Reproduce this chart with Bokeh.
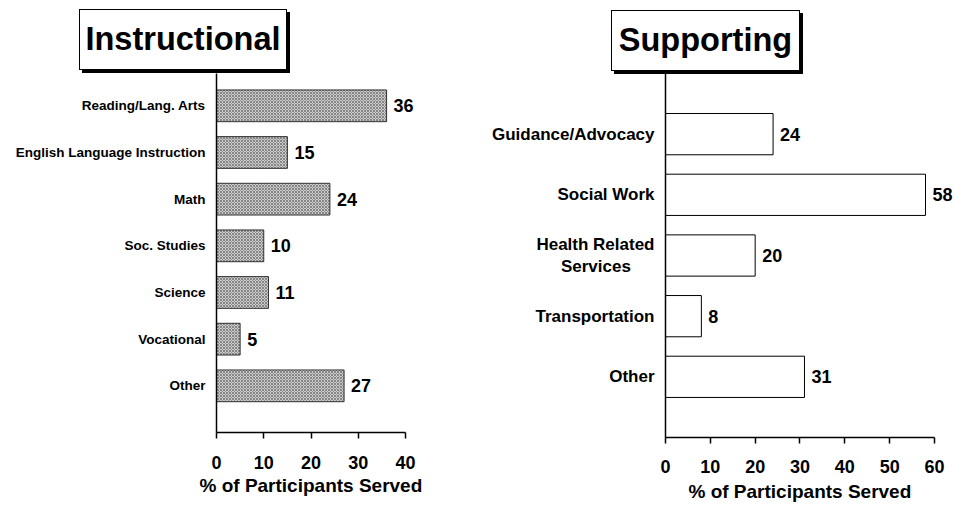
from bokeh.plotting import figure
from bokeh.models import (Range1d, FixedTicker, LabelSet, ColumnDataSource, Div, Title)
from bokeh.layouts import row, column
from bokeh.core.properties import value
from bokeh.embed import file_html
from bokeh.resources import INLINE

# ---------------- data ----------------
instr_title = "Instructional"
instr_categories = ["Reading/Lang. Arts", "English Language Instruction", "Math",
                    "Soc. Studies", "Science", "Vocational", "Other"]
instr_values = [36, 15, 24, 10, 11, 5, 27]
instr_ticks = [0, 10, 20, 30, 40]

supp_title = "Supporting"
supp_categories = ["Guidance/Advocacy", "Social Work",
                   "Health Related\nServices\u00a0\u00a0\u00a0\u00a0\u00a0",
                   "Transportation", "Other"]
supp_values = [24, 58, 20, 8, 31]
supp_ticks = [0, 10, 20, 30, 40, 50, 60]

x_label = "% of Participants Served"
FONT = "Liberation Sans"
TITLE_H = 73
CHART_H = 437
XLABEL_W = 223  # approx. rendered width of the x-axis title at 19px bold


def title_div(title, width, box_left, box_top, box_w, box_h):
    html = (
        f'<div style="margin-left:{box_left}px; margin-top:{box_top}px; '
        f'width:{box_w}px; height:{box_h}px; box-sizing:border-box; '
        f'border:1.5px solid black; background:white; box-shadow:3px 3px 0 0 black; '
        f'display:flex; align-items:center; justify-content:center; '
        f"font-family:'{FONT}'; font-weight:bold; font-size:32.5px; color:black; "
        f'line-height:1;">{title}</div>'
    )
    return Div(text=html, width=width, height=TITLE_H, margin=0)


def chart_fig(cats, vals, ticks, width, mb_left, mb_bottom, px_per_x, px_per_y,
              label_size, hatched, tick_standoff, xlabel_standoff):
    n = len(cats)
    pos = [n - i for i in range(n)]  # first category at the top
    src = ColumnDataSource(dict(y=pos, v=vals, t=[str(v) for v in vals]))
    frame_h = CHART_H - mb_bottom
    frame_w = width - mb_left
    x_end = frame_w / px_per_x
    p = figure(width=width, height=CHART_H, output_backend="svg", toolbar_location=None,
               x_range=Range1d(0, x_end),
               y_range=Range1d(0, frame_h / px_per_y),
               min_border_left=mb_left, min_border_top=0,
               min_border_bottom=mb_bottom, min_border_right=0)
    p.outline_line_color = None
    p.grid.visible = False
    p.background_fill_color = None
    p.border_fill_color = None

    if hatched:
        p.hbar(y="y", right="v", left=0, height=0.68, source=src,
               fill_color="#cccccc", line_color="#333333", line_width=1,
               hatch_pattern="diagonal_cross", hatch_scale=3, hatch_color="#555555",
               hatch_weight=0.6)
    else:
        p.hbar(y="y", right="v", left=0, height=0.68, source=src,
               fill_color="white", line_color="black", line_width=1)

    labels = LabelSet(x="v", y="y", text="t", source=src, x_offset=7,
                      text_baseline="middle", text_align="left",
                      text_font=value(FONT), text_font_style="bold",
                      text_font_size="18px", text_color="black")
    p.add_layout(labels)

    xa = p.xaxis[0]
    xa.ticker = FixedTicker(ticks=ticks)
    xa.bounds = (ticks[0], ticks[-1])
    xa.axis_line_color = "black"
    xa.axis_line_width = 1.5
    xa.major_tick_line_color = "black"
    xa.major_tick_line_width = 1.5
    xa.major_tick_out = 6
    xa.major_tick_in = 0
    xa.minor_tick_line_color = None
    xa.major_label_text_font = FONT
    xa.major_label_text_font_style = "bold"
    xa.major_label_text_font_size = "18px"
    xa.major_label_text_color = "black"
    xa.major_label_standoff = tick_standoff

    # axis title centred under the drawn part of the axis (0 .. last tick)
    shift = ticks[-1] * px_per_x / 2 - XLABEL_W / 2
    p.add_layout(Title(text=x_label, align="left", offset=shift,
                       standoff=xlabel_standoff, text_font=FONT,
                       text_font_style="bold", text_font_size="19px",
                       text_color="black"), "below")

    ya = p.yaxis[0]
    ya.ticker = FixedTicker(ticks=pos)
    ya.major_label_overrides = {pp: c for pp, c in zip(pos, cats)}
    ya.axis_line_color = "black"
    ya.axis_line_width = 1.5
    ya.major_tick_line_color = None
    ya.major_tick_out = 0
    ya.major_tick_in = 0
    ya.minor_tick_line_color = None
    ya.major_label_text_font = FONT
    ya.major_label_text_font_style = "bold"
    ya.major_label_text_font_size = label_size
    ya.major_label_text_color = "black"
    ya.major_label_standoff = 11
    return p


# left panel: y axis at x=216, x axis at y=432, 4.725 px per %, 46.67 px per category
W1 = 468
t1 = title_div(instr_title, W1, box_left=79, box_top=9, box_w=208, box_h=61)
c1 = chart_fig(instr_categories, instr_values, instr_ticks, W1, mb_left=216,
               mb_bottom=CHART_H - (432 - TITLE_H), px_per_x=4.725, px_per_y=46.67,
               label_size="13.5px", hatched=True, tick_standoff=17, xlabel_standoff=2)

# right panel: y axis at x=665, x axis at y=437, 4.483 px per %, 60.67 px per category
W2 = 485
t2 = title_div(supp_title, W2, box_left=611 - W1, box_top=10, box_w=189, box_h=61)
c2 = chart_fig(supp_categories, supp_values, supp_ticks, W2, mb_left=665 - W1,
               mb_bottom=CHART_H - (437 - TITLE_H), px_per_x=4.483, px_per_y=60.67,
               label_size="17px", hatched=False, tick_standoff=16, xlabel_standoff=7)

layout = row(column(t1, c1), column(t2, c2))
open("out.html", "w").write(file_html(layout, INLINE))
